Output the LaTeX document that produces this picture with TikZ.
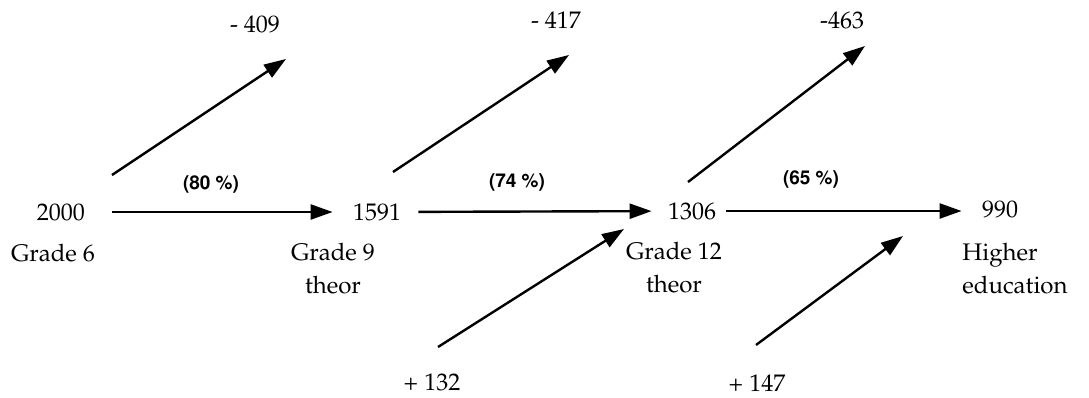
\documentclass[tikz,border=0pt]{standalone}
\usepackage[T1]{fontenc}
\usepackage{mathpazo}
\usetikzlibrary{arrows.meta}

\begin{document}
\begin{tikzpicture}[
  x=0.5pt, y=-0.5pt,
  flow/.style  = {-{Triangle[length=11pt, width=7.5pt]}, line width=1.2pt},
  count/.style = {inner sep=0pt, font=\fontsize{12}{14}\selectfont},
  grade/.style = {inner sep=0pt, align=center, font=\fontsize{12}{16.5}\selectfont},
  rate/.style  = {inner sep=0pt, font=\fontfamily{phv}\fontsize{9.5}{11}\bfseries\selectfont},
]
  \useasboundingbox (0,0) rectangle (1089,397);

  % stock at each stage
  \node[count] (n6)  at (61,212)   {2000};
  \node[count] (n9)  at (377,212)  {1591};
  \node[count] (n12) at (692,211)  {1306};
  \node[count] (nhe) at (1000,209) {990};

  \node[grade]              (g6)  at (53,253)  {Grade 6};
  \node[grade]              (g9)  at (333,269) {Grade 9\\theor};
  \node[grade]              (g12) at (674,268) {Grade 12\\theor};
  \node[grade, align=left, anchor=west] (ghe) at (962,269) {Higher\\education};

  % transition rates
  \node[rate] (r1) at (211,185) {(80 \%)};
  \node[rate] (r2) at (517,183) {(74 \%)};
  \node[rate] (r3) at (811,180) {(65 \%)};

  \draw[flow, shorten <=13.5pt, shorten >=10pt] (n6)  -- (n9);
  \draw[flow, shorten <=8.5pt,  shorten >=8pt]  (n9)  -- (n12);
  \draw[flow, shorten <=5pt,    shorten >=10pt] (n12.east) -- (n12.east -| nhe.west);

  % leavers
  \node[count] (out1) at (255,24) {- 409};
  \node[count] (out2) at (556,20) {- 417};
  \node[count] (out3) at (842,20) {-463};

  \coordinate (o1a) at (112,175);  \coordinate (o1b) at (286,59);
  \coordinate (o2a) at (393,172);  \coordinate (o2b) at (569,55);
  \coordinate (o3a) at (688,182);  \coordinate (o3b) at (865,46);
  \draw[flow] (o1a) -- (o1b);
  \draw[flow] (o2a) -- (o2b);
  \draw[flow] (o3a) -- (o3b);

  % entrants
  \node[count] (in1) at (432,382) {+ 132};
  \node[count] (in2) at (757,383) {+ 147};

  \coordinate (i1a) at (438,347);  \coordinate (i1b) at (624,229);
  \coordinate (i2a) at (756,345);  \coordinate (i2b) at (903,236);
  \draw[flow] (i1a) -- (i1b);
  \draw[flow] (i2a) -- (i2b);
\end{tikzpicture}
\end{document}
